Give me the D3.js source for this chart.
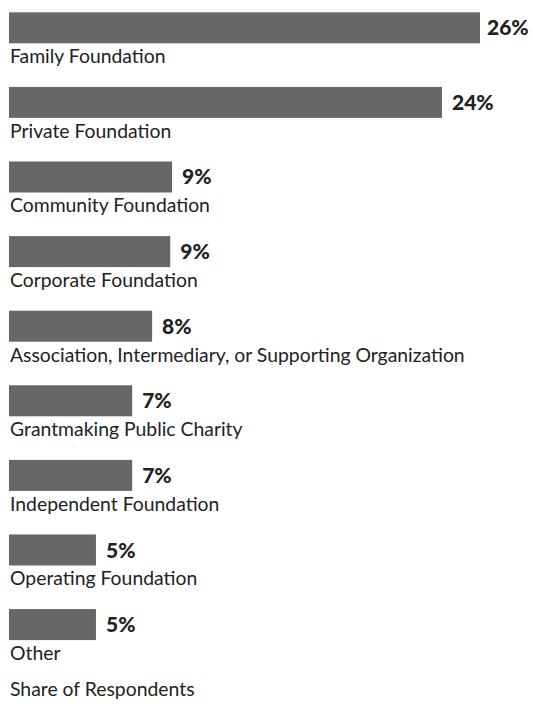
<!DOCTYPE html>
<html>
<head>
<meta charset="utf-8">
<script src="https://cdn.jsdelivr.net/npm/d3@7"></script>
<style>
  html, body { margin: 0; padding: 0; background: #fff; }
  svg { display: block; }
</style>
</head>
<body>
<div id="chart"></div>
<script>
const categories = [
  "Family Foundation",
  "Private Foundation",
  "Community Foundation",
  "Corporate Foundation",
  "Association, Intermediary, or Supporting Organization",
  "Grantmaking Public Charity",
  "Independent Foundation",
  "Operating Foundation",
  "Other"
];
const shares = [26.0, 23.9, 9.0, 8.9, 7.9, 6.8, 6.8, 4.8, 4.8];
const axisTitle = "Share of Respondents";

const W = 533, H = 706;
const left = 9;
const fontFamily = "Lato, 'Noto Sans', sans-serif";

const svg = d3.select("#chart").append("svg").attr("width", W).attr("height", H);

const x = d3.scaleLinear().domain([0, 26]).range([0, 471]);
const y = d3.scaleBand().domain(categories).range([12.3, 640.1]).paddingInner(0.5845).paddingOuter(0);

const data = categories.map((c, i) => ({ c, v: shares[i] }));
const fmt = v => d3.format(".0f")(v) + "%";

// Fit category label font size to reference width of the longest label
const probe = svg.append("text").attr("font-family", fontFamily).attr("font-size", 16)
  .text(categories[4]);
const pw = probe.node().getComputedTextLength();
probe.remove();
const labelSize = 16 * 455 / pw;

const g = svg.append("g").attr("transform", `translate(${left},0)`);

g.selectAll("rect.bar").data(data).join("rect")
  .attr("class", "bar")
  .attr("x", 0)
  .attr("y", d => y(d.c))
  .attr("width", d => x(d.v))
  .attr("height", y.bandwidth())
  .attr("fill", "#666766");

g.selectAll("text.val").data(data).join("text")
  .attr("class", "val")
  .attr("x", d => Math.min(x(d.v) + 10, W - left - 46))
  .attr("y", d => y(d.c) + y.bandwidth() / 2 + 7.5)
  .attr("font-family", fontFamily)
  .attr("font-weight", 900)
  .attr("font-size", 21)
  .attr("fill", "#222")
  .text(d => fmt(d.v));

g.selectAll("text.cat").data(data).join("text")
  .attr("class", "cat")
  .attr("x", 1)
  .attr("y", d => y(d.c) + y.bandwidth() + 20)
  .attr("font-family", fontFamily)
  .attr("font-size", labelSize)
  .attr("fill", "#222")
  .text(d => d.c);

svg.append("text")
  .attr("x", left + 1)
  .attr("y", 696)
  .attr("font-family", fontFamily)
  .attr("font-size", labelSize)
  .attr("fill", "#222")
  .text(axisTitle);
</script>
</body>
</html>
